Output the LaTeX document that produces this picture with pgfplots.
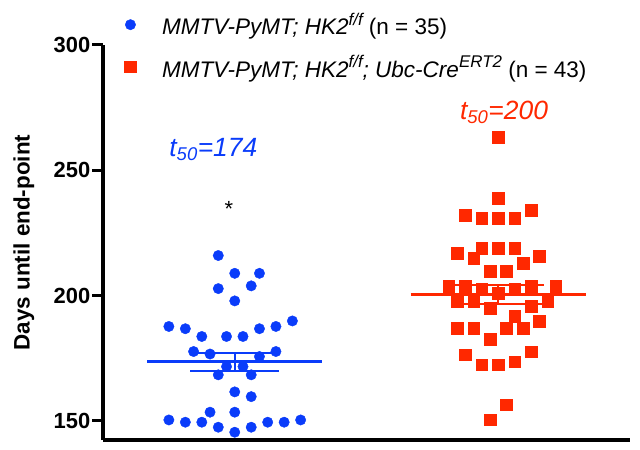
\documentclass[border=0pt]{standalone}
\usepackage{pgfplots}
\pgfplotsset{compat=1.18}
\usepackage{pgfplotstable}
\usepackage{fontspec}
\setmainfont{Liberation Sans}
\definecolor{gblue}{RGB}{10,60,250}
\definecolor{gred}{RGB}{255,40,0}
\newcommand{\supit}[1]{\raisebox{0.42em}{\fontsize{17}{17}\selectfont\itshape #1}}

\pgfplotstableread{
x y
-2 216.0
0 208.9
3 208.9
-2 202.8
2 203.9
0 197.9
-8 187.7
-6 186.8
-4 183.7
-1 183.7
1 183.7
3 186.8
5 187.7
7 189.9
-5 177.7
-3 176.7
3 175.7
5 177.7
-1 171.7
1 171.7
-2 168.4
2 168.4
0 161.6
2 159.7
-3 153.5
0 153.5
-8 150.4
-6 149.5
-4 149.5
-2 147.5
0 145.5
2 147.5
4 149.5
6 149.5
8 150.4
}\bluedata

\pgfplotstableread{
x y
32 263.3
32 238.8
28 232.0
30 230.9
32 230.9
34 230.9
36 234.1
27 216.9
29 214.9
30 218.9
32 218.9
34 218.9
35 212.9
37 215.7
31 209.7
33 209.7
26 203.7
28 203.7
30 202.8
34 202.8
36 203.7
39 203.7
32 200.9
27 197.7
29 197.7
31 194.9
36 195.7
38 197.7
34 191.7
37 189.7
27 186.9
29 186.9
33 186.9
35 186.9
31 182.5
28 176.5
30 172.5
32 172.5
34 173.7
36 177.7
33 156.5
31 150.5
32 201.0
}\reddata

\begin{document}
\begin{tikzpicture}
\useasboundingbox (0,0) rectangle (640bp,450bp);
\begin{axis}[
  at={(103bp,10bp)}, anchor=south west,
  scale only axis, width=527bp, height=395bp,
  xmin=-16, xmax=48, ymin=142.4, ymax=300,
  axis x line*=bottom, axis y line*=left,
  axis line style={line width=4bp, black},
  xtick=\empty,
  ytick={150,200,250,300},
  tick align=outside, major tick length=11bp,
  y tick style={line width=3bp, black},
  /pgf/number format/assume math mode=true,
  yticklabel style={font=\fontsize{22}{22}\selectfont\bfseries, inner sep=1.5bp},
  ylabel={Days until end-point},
  ylabel style={font=\fontsize{22.5}{24}\selectfont\bfseries, at={(axis description cs:-0.15,0.5)}, anchor=center},
  clip=false,
  legend cell align=left,
  legend style={draw=none, fill=none, at={(axis description cs:0.035,0.998)}, anchor=west,
    font=\fontsize{22.6}{24}\selectfont, row sep=15bp,
    /tikz/every odd column/.append style={column sep=24bp}},
]
\addplot[only marks, mark=*, mark size=5.2bp, gblue, mark options={draw=gblue, fill=gblue}] table[x=x, y=y] {\bluedata};
\addlegendentry{\textit{MMTV-PyMT; HK2}\supit{f/f} (n = 35)}
\addplot[only marks, mark=square*, mark size=5.8bp, gred, mark options={draw=gred, fill=gred}] table[x=x, y=y] {\reddata};
\addlegendentry{\textit{MMTV-PyMT; HK2}\supit{f/f}\textit{; Ubc-Cre}\supit{ERT2} (n = 43)}
% blue mean and SEM
\addplot[gblue, line width=2.7bp, forget plot] coordinates {(-10.65,173.7) (10.65,173.7)};
\addplot[gblue, line width=2bp, forget plot] coordinates {(0,170.1) (0,177.1)};
\addplot[gblue, line width=2bp, forget plot] coordinates {(-5.4,177.1) (5.4,177.1)};
\addplot[gblue, line width=2bp, forget plot] coordinates {(-5.4,170.1) (5.4,170.1)};
% red mean and SEM
\addplot[gred, line width=2.7bp, forget plot] coordinates {(21.35,200.4) (42.65,200.4)};
\addplot[gred, line width=2bp, forget plot] coordinates {(32,196.7) (32,204.4)};
\addplot[gred, line width=2bp, forget plot] coordinates {(26.5,204.4) (37.5,204.4)};
\addplot[gred, line width=2bp, forget plot] coordinates {(26.5,196.7) (37.5,196.7)};
\node[gblue, font=\fontsize{26.5}{26.5}\selectfont\itshape] at (axis cs:-2.6,258.4) {t\textsubscript{50}=174};
\node[gred, font=\fontsize{26.5}{26.5}\selectfont\itshape] at (axis cs:32.7,273.2) {t\textsubscript{50}=200};
\node[black, font=\fontsize{22}{22}\selectfont] at (axis cs:-0.7,234.5) {*};
\end{axis}
\end{tikzpicture}
\end{document}
